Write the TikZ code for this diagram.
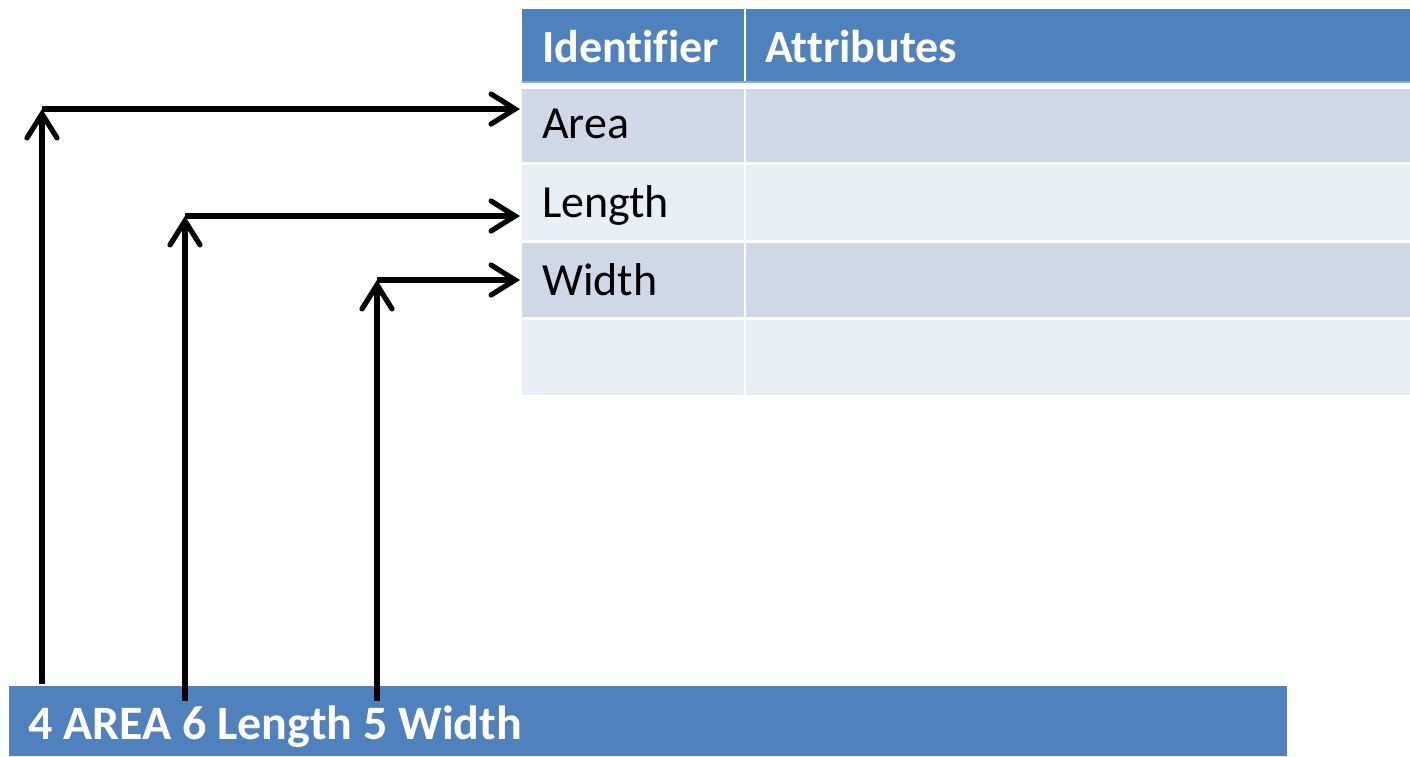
\documentclass[tikz,border=0pt]{standalone}
\usepackage{fontspec}
\setmainfont{Carlito}[Ligatures=NoCommon]
\usetikzlibrary{arrows.meta}
\definecolor{hdrblue}{HTML}{4F81BD}
\definecolor{hdrline}{HTML}{8EAAD8}
\definecolor{rowdark}{HTML}{D0D8E8}
\definecolor{rowlight}{HTML}{E9EDF4}
\begin{document}
\begin{tikzpicture}[x=1pt,y=-1pt,
  cell/.style={draw=none, inner sep=0pt, outer sep=0pt, anchor=north west},
  hdrtext/.style={anchor=base west, inner sep=0pt, text=white, font=\bfseries\fontsize{46}{55}\selectfont},
  celltext/.style={anchor=base west, inner sep=0pt, text=black, font=\fontsize{46}{55}\selectfont},
  link/.style={line width=5.2pt, -{Straight Barb[length=24pt,width=30pt,line cap=round]}}]
\useasboundingbox (0,0) rectangle (1410,756);

% table: header row
\node[cell, fill=hdrblue, minimum width=222pt, minimum height=72pt] (h1) at (522,9) {};
\node[cell, fill=hdrblue, minimum width=664pt, minimum height=72pt] (h2) at (746,9) {};
\fill[hdrline] (522,81) rectangle (1410,82.5);
\node[hdrtext] (h1t) at (542,62) {Identifier};
\node[hdrtext] (h2t) at (765,62) {Attributes};

% table: body rows
\node[cell, fill=rowdark, minimum width=222pt, minimum height=73pt] (r1a) at (522,89) {};
\node[cell, fill=rowdark, minimum width=664pt, minimum height=73pt] (r1b) at (746,89) {};
\node[cell, fill=rowlight, minimum width=222pt, minimum height=75pt] (r2a) at (522,165) {};
\node[cell, fill=rowlight, minimum width=664pt, minimum height=75pt] (r2b) at (746,165) {};
\node[cell, fill=rowdark, minimum width=222pt, minimum height=74pt] (r3a) at (522,243) {};
\node[cell, fill=rowdark, minimum width=664pt, minimum height=74pt] (r3b) at (746,243) {};
\node[cell, fill=rowlight, minimum width=222pt, minimum height=75pt] (r4a) at (522,320) {};
\node[cell, fill=rowlight, minimum width=664pt, minimum height=75pt] (r4b) at (746,320) {};

\node[celltext] (area) at (542,138) {Area};
\node[celltext] (length) at (542,217) {Length};
\node[celltext] (width) at (542,295) {Width};

% source line
\node[cell, fill=hdrblue, minimum width=1278pt, minimum height=70pt] (bar) at (9,686) {};
\node[hdrtext, font=\bfseries\fontsize{48}{58}\selectfont] (code) at (28,739) {4 AREA 6 Length 5 Width};

% connector anchor points
\coordinate (s1) at (42,684);
\coordinate (s2) at (185,701);
\coordinate (s3) at (377,701);
\coordinate (c1) at (42,109);
\coordinate (c2) at (185,216);
\coordinate (c3) at (377,280);
\coordinate (t1) at (520,109);
\coordinate (t2) at (520,216);
\coordinate (t3) at (520,280);

% connectors from tokens to table entries
\draw[link] (s1) -- (c1);
\draw[link] (c1) -- (t1);
\draw[link] (s2) -- (c2);
\draw[link] (c2) -- (t2);
\draw[link] (s3) -- (c3);
\draw[link] (c3) -- (t3);
\end{tikzpicture}
\end{document}
